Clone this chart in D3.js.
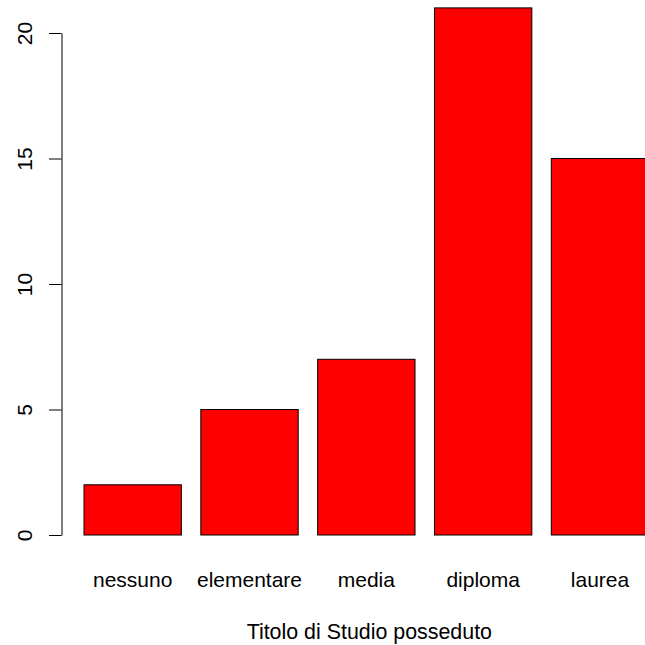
<!DOCTYPE html>
<html><head><meta charset="utf-8">
<script src="https://cdn.jsdelivr.net/npm/d3@7"></script>
<style>html,body{margin:0;padding:0;background:#fff;overflow:hidden}svg{display:block}</style>
</head><body>
<script>
const categories = ["nessuno", "elementare", "media", "diploma", "laurea"];
const values = [2, 5, 7, 21, 15];
const yTicks = [0, 5, 10, 15, 20];
const xTitle = "Titolo di Studio posseduto";

const W = 645, H = 645;
const font = "'Liberation Sans', Arial, sans-serif";
const svg = d3.select("body").append("svg").attr("width", W).attr("height", H)
  .style("font-family", font);

const y = d3.scaleLinear().domain([0, 20]).range([535, 33]);
const x = d3.scaleBand().domain(categories)
  .range([74.27, 658.4]).paddingInner(1/6).paddingOuter(1/12);

svg.append("g").selectAll("rect").data(values).join("rect")
  .attr("x", (d, i) => x(categories[i]))
  .attr("y", d => y(d))
  .attr("width", x.bandwidth())
  .attr("height", d => y(0) - y(d))
  .attr("fill", "#ff0000").attr("stroke", "#000").attr("stroke-width", 1);

const ax = svg.append("g").attr("transform", "translate(61.5,0)")
  .call(d3.axisLeft(y).tickValues(yTicks).tickSize(12.5).tickSizeOuter(0).tickFormat(d3.format("d")));
ax.select(".domain").attr("stroke", "#000");
ax.selectAll(".tick line").attr("stroke", "#000");
ax.selectAll(".tick text")
  .attr("font-size", 21).attr("font-family", font).attr("fill", "#000")
  .attr("x", null).attr("dy", null)
  .attr("text-anchor", "middle")
  .attr("transform", "translate(-29.5,0) rotate(-90)");

svg.append("g").selectAll("text").data(categories).join("text")
  .attr("x", d => x(d) + x.bandwidth() / 2)
  .attr("y", 587)
  .attr("text-anchor", "middle").attr("font-size", 21).attr("fill", "#000")
  .text(d => d);

svg.append("text").attr("x", x(categories[0]) + (x(categories[4]) + x.bandwidth() - x(categories[0])) / 2 + 3)
  .attr("y", 639).attr("text-anchor", "middle").attr("font-size", 21.4).attr("fill", "#000")
  .text(xTitle);
</script>
</body></html>
